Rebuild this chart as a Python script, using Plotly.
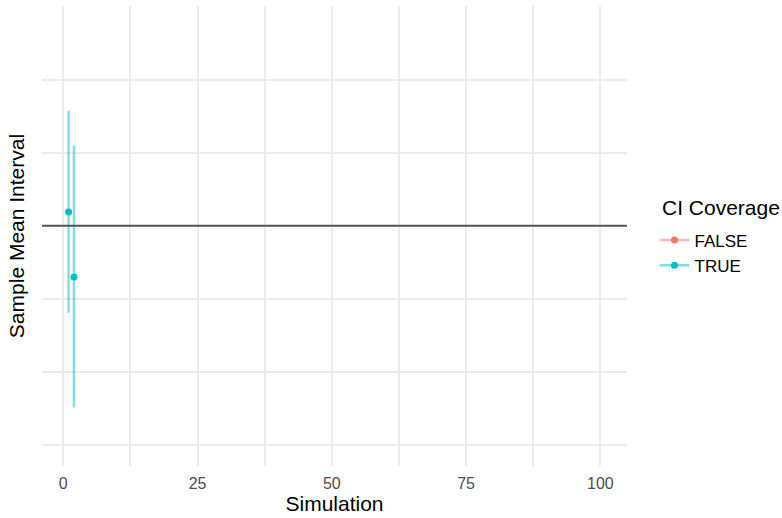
import plotly.graph_objects as go

# Data
simulation = [1, 2]
sample_mean = [0.19, -0.70]
ci_lower = [-1.19, -2.49]
ci_upper = [1.575, 1.10]
coverage = ["TRUE", "TRUE"]
true_mean = 0.0
legend_levels = ["FALSE", "TRUE"]
level_colors = {"FALSE": "#F8766D", "TRUE": "#00BFC4"}
level_fade = {"FALSE": "rgba(248,118,109,0.5)", "TRUE": "rgba(0,191,196,0.5)"}
x_ticks = [0, 25, 50, 75, 100]

fig = go.Figure()

for lvl in legend_levels:
    xs = [s for s, c in zip(simulation, coverage) if c == lvl]
    ys = [m for m, c in zip(sample_mean, coverage) if c == lvl]
    up = [u - m for u, m, c in zip(ci_upper, sample_mean, coverage) if c == lvl]
    dn = [m - l for l, m, c in zip(ci_lower, sample_mean, coverage) if c == lvl]
    if xs:
        fig.add_trace(go.Scatter(
            x=xs, y=ys, mode="markers",
            marker=dict(color=level_colors[lvl], size=7),
            error_y=dict(type="data", symmetric=False, array=up, arrayminus=dn,
                         color=level_fade[lvl], thickness=2.5, width=0),
            showlegend=False, hoverinfo="skip"))
    # legend entry
    fig.add_trace(go.Scatter(
        x=[None], y=[None], mode="lines+markers", name=lvl,
        line=dict(color=level_fade[lvl], width=2.5),
        marker=dict(color=level_colors[lvl], size=7),
        showlegend=True))

fig.add_shape(type="line", xref="paper", x0=0, x1=1, yref="y", y0=true_mean, y1=true_mean,
              line=dict(color="#555555", width=2), layer="above")

fig.add_annotation(text="CI Coverage", xref="paper", yref="paper",
                   x=1.0564, y=0.561, xanchor="left", yanchor="middle",
                   showarrow=False, font=dict(size=21, color="#000000"))

grid = "#EBEBEB"
fig.update_layout(
    width=782, height=518,
    margin=dict(l=42, r=155, t=6, b=52),
    paper_bgcolor="white", plot_bgcolor="white",
    font=dict(family="Liberation Sans, Arial, sans-serif", color="#000000"),
    xaxis=dict(
        range=[-3.95, 104.95], tickvals=x_ticks, ticktext=[str(v) for v in x_ticks],
        showgrid=True, gridcolor=grid, gridwidth=1.6, zeroline=False, showline=False,
        ticks="", tickfont=dict(size=16, color="#4D4D4D"), ticklabelstandoff=6,
        minor=dict(dtick=12.5, tick0=0, showgrid=True, gridcolor=grid, gridwidth=1.6),
        title=dict(text="Simulation", font=dict(size=21, color="#000000"), standoff=4),
    ),
    yaxis=dict(
        range=[-3.29, 3.01], dtick=1, tick0=0, showticklabels=False,
        showgrid=True, gridcolor=grid, gridwidth=1.6, zeroline=False, showline=False, ticks="",
        title=dict(text="Sample Mean Interval", font=dict(size=21, color="#000000"), standoff=10),
    ),
    legend=dict(
        font=dict(size=17, color="#000000"),
        x=1.047, xanchor="left", y=0.463, yanchor="middle",
        bgcolor="rgba(0,0,0,0)", itemwidth=30, tracegroupgap=0,
    ),
)

fig.write_html("out.html")
